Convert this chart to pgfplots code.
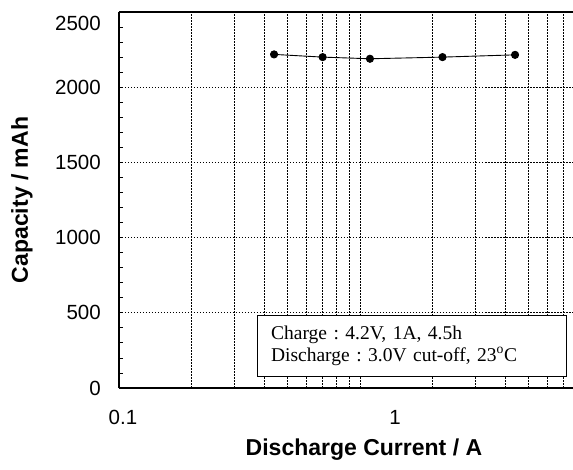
\documentclass[border=0pt]{standalone}
\usepackage{fontspec}
\setmainfont{Liberation Sans}
\newfontfamily\seriffont{Liberation Serif}
\usepackage{pgfplots}
\pgfplotsset{compat=1.18}
\begin{document}
\frenchspacing
\begin{tikzpicture}
\begin{axis}[
  name=A,
  xmode=log,
  scale only axis,
  width=454pt, height=376pt,
  xmin=0.1, xmax=7.654,
  ymin=0, ymax=2500,
  axis x line*=box,
  axis y line*=left,
  axis line style={line width=1.3pt},
  xtick={0.1,1},
  xticklabels={{\hspace*{8pt}0.1},{\hspace*{70pt}1}},
  minor xtick={0.2,0.3,0.4,0.5,0.6,0.7,0.8,0.9,2,3,4,5,6,7},
  xtick style={draw=none},
  ytick={0,500,1000,1500,2000,2500},
  yticklabels={0,500,1000,1500,2000,{\raisebox{-18.3pt}[0pt][0pt]{2500}}},
  minor ytick={100,200,300,400,600,700,800,900,1100,1200,1300,1400,1600,1700,1800,1900,2100,2200,2300,2400},
  tick align=inside,
  major tick length=4pt, minor tick length=4pt,
  ytick style={line width=0.8pt, black},
  xmajorgrids, xminorgrids, ymajorgrids,
  major grid style={black, line width=0.6pt, dash pattern=on 1.5pt off 1.5pt},
  minor grid style={black, line width=0.6pt, dash pattern=on 1.5pt off 1.5pt},
  /pgf/number format/assume math mode=true,
  /pgf/number format/set thousands separator={},
  tick label style={font=\fontsize{20.5}{24}\selectfont},
  xticklabel style={inner sep=0pt, yshift=-22pt},
  yticklabel style={inner sep=0pt, xshift=-18pt},
  xlabel={Discharge Current / A},
  ylabel={Capacity / mAh},
  label style={font=\fontsize{23}{27}\selectfont\bfseries},
  xlabel style={at={(axis description cs:0.5396,-0.165)}, anchor=center},
  ylabel style={at={(axis description cs:-0.2137,0.5)}, anchor=center},
]
\addplot[black, line width=0.9pt, mark=*, mark size=3.6pt] coordinates {
  (0.44,2218) (0.70,2200) (1.10,2189) (2.20,2200) (4.40,2215)
};
\node[draw, line width=0.8pt, fill=white, anchor=south west,
      minimum width=309pt, minimum height=61pt, text width=281pt,
      inner xsep=14pt, align=left,
      font=\seriffont\fontsize{19.5}{21.6}\selectfont]
  at (rel axis cs:0.3033,0.030)
  {Charge : 4.2V, 1A, 4.5h\\Discharge : 3.0V cut-off, 23\textsuperscript{o}C};
\end{axis}
\pgfresetboundingbox
\path ([shift={(-119pt,-82pt)}]A.south west) rectangle ([shift={(0pt,12pt)}]A.north east);
\end{tikzpicture}
\end{document}
